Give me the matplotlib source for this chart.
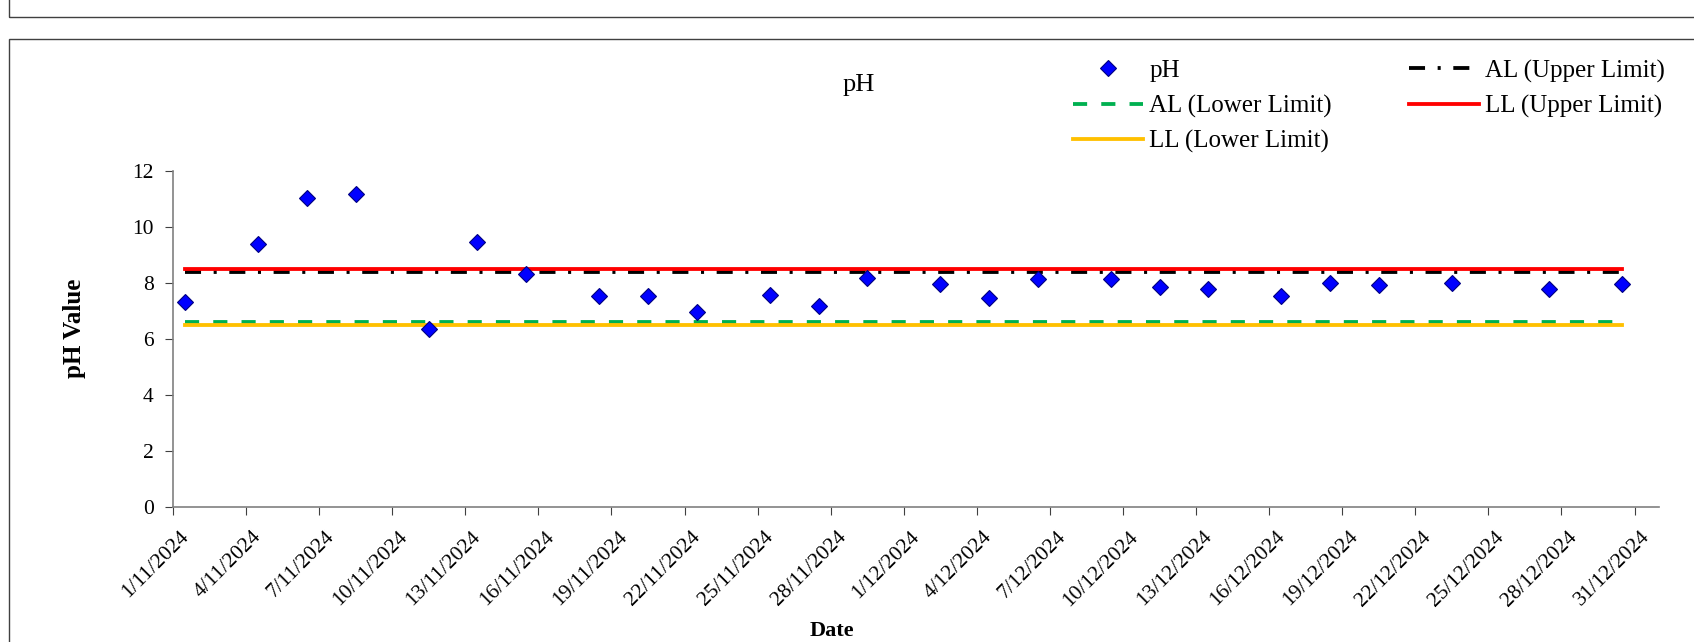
import datetime as dt
import matplotlib
matplotlib.use("Agg")
import matplotlib.pyplot as plt
import matplotlib.transforms as mtransforms
from matplotlib.patches import Rectangle

plt.rcParams["font.family"] = ["Liberation Serif", "DejaVu Serif"]

# sample dates and readings
dates = ["1/11/2024", "4/11/2024", "6/11/2024", "8/11/2024", "11/11/2024",
         "13/11/2024", "15/11/2024", "18/11/2024", "20/11/2024", "22/11/2024",
         "25/11/2024", "27/11/2024", "29/11/2024", "2/12/2024", "4/12/2024",
         "6/12/2024", "9/12/2024", "11/12/2024", "13/12/2024", "16/12/2024",
         "18/12/2024", "20/12/2024", "23/12/2024", "27/12/2024", "30/12/2024"]
ph = [7.33, 9.39, 11.02, 11.18, 6.35, 9.48, 8.31, 7.54, 7.54, 6.98,
      7.58, 7.19, 8.19, 7.96, 7.46, 8.14, 8.13, 7.86, 7.80, 7.55,
      7.99, 7.94, 8.00, 7.79, 7.96]

al_upper = 8.4
al_lower = 6.6
ll_upper = 8.5
ll_lower = 6.5

tick_labels = ["1/11/2024", "4/11/2024", "7/11/2024", "10/11/2024", "13/11/2024",
               "16/11/2024", "19/11/2024", "22/11/2024", "25/11/2024", "28/11/2024",
               "1/12/2024", "4/12/2024", "7/12/2024", "10/12/2024", "13/12/2024",
               "16/12/2024", "19/12/2024", "22/12/2024", "25/12/2024", "28/12/2024",
               "31/12/2024"]


def to_date(s):
    return dt.datetime.strptime(s, "%d/%m/%Y")


x = [to_date(d) + dt.timedelta(hours=12) for d in dates]
ticks = [to_date(t) for t in tick_labels]

fig = plt.figure(figsize=(16.94, 6.42), dpi=100)
ax = fig.add_axes([0.1021, 0.2103, 0.8772, 0.5233])

lw = 2.75
ax.plot(x, [al_upper] * len(x), color="black", lw=lw, dashes=(4.2, 3.3, 0.8, 3.3),
        label="AL (Upper Limit)")
ax.plot(x, [ll_upper] * len(x), color="#FF0000", lw=lw, label="LL (Upper Limit)")
ax.plot(x, [al_lower] * len(x), color="#00B050", lw=lw, dashes=(3.7, 3.7),
        label="AL (Lower Limit)")
ax.plot(x, [ll_lower] * len(x), color="#FFC000", lw=lw, label="LL (Lower Limit)")
ax.plot(x, ph, ls="none", marker="D", ms=8.5, mfc="#0000FF", mec="#000080",
        mew=0.8, label="pH", zorder=5)

ax.set_xlim(to_date("1/11/2024"), to_date("1/1/2025"))
ax.set_ylim(0, 12)
ax.set_yticks([0, 2, 4, 6, 8, 10, 12])
ax.set_xticks(ticks)
ax.set_xticklabels(tick_labels, rotation=45, ha="right", va="top",
                   rotation_mode="anchor")
ax.tick_params(axis="both", direction="out", length=6, color="#404040")
ax.tick_params(axis="y", labelsize=15.5, pad=8)
ax.tick_params(axis="x", labelsize=15.5, pad=0)
shift = mtransforms.ScaledTranslation(0.06, -0.12, fig.dpi_scale_trans)
for lbl in ax.get_xticklabels():
    lbl.set_transform(lbl.get_transform() + shift)
for s in ["top", "right"]:
    ax.spines[s].set_visible(False)
for s in ["left", "bottom"]:
    ax.spines[s].set_color("#808080")
    ax.spines[s].set_linewidth(1.2)

fig.text(74.5 / 1694, 1 - 328 / 642, "pH Value", fontsize=18, fontweight="bold",
         rotation=90, ha="center", va="center")
fig.text(832 / 1694, 1 - 631 / 642, "Date", fontsize=16, fontweight="bold",
         ha="center", va="center")
fig.text(859 / 1694, 1 - 85 / 642, "pH", fontsize=19, ha="center", va="center")

h, l = ax.get_legend_handles_labels()
order = [4, 2, 3, 0, 1]
fig.legend([h[i] for i in order], [l[i] for i in order], ncol=2,
           loc="upper left", bbox_to_anchor=(1073.3 / 1694, 1 - 59.5 / 642),
           frameon=False, fontsize=18, handlelength=2.8, handletextpad=0.24,
           columnspacing=3.07, borderpad=0, borderaxespad=0, labelspacing=0.5)

# frames of the surrounding sheet
fig.add_artist(Rectangle((9 / 1694, 1 - 17 / 642), 2, 1, transform=fig.transFigure,
                         fill=False, ec="#404040", lw=1))
fig.add_artist(Rectangle((9 / 1694, -1), 2, 1 - 39 / 642 + 1,
                         transform=fig.transFigure, fill=False, ec="#404040", lw=1))

fig.savefig("out.png", dpi=100)
